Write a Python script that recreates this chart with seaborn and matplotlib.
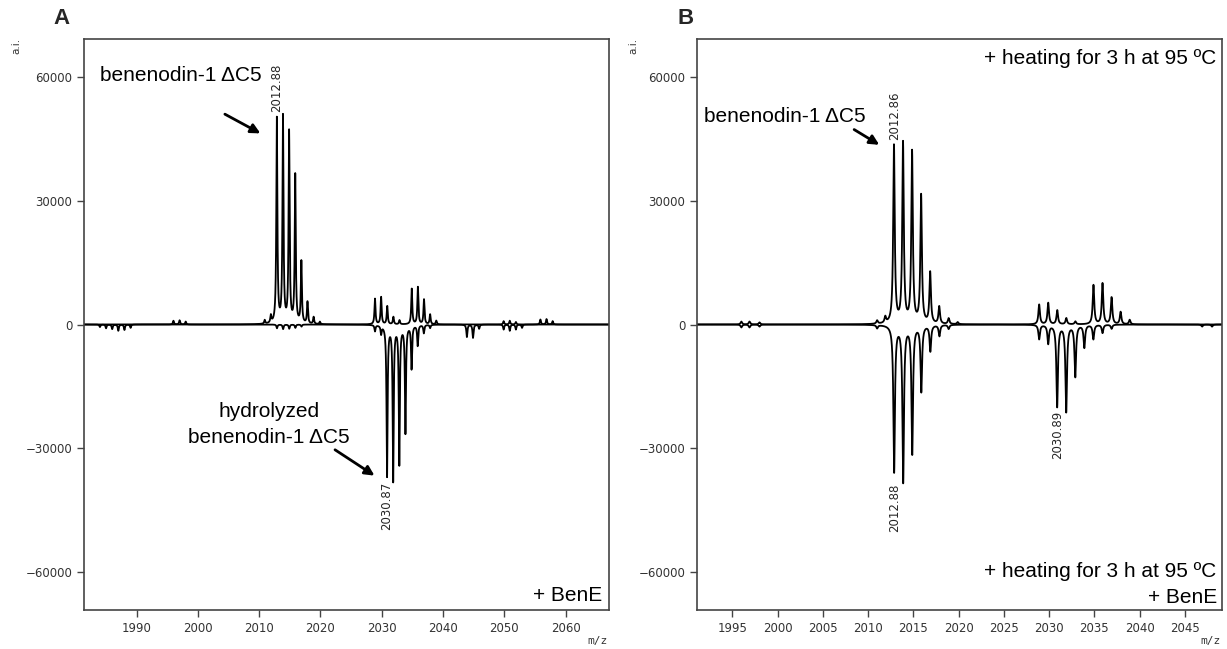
import matplotlib.pyplot as plt
import numpy as np
import pandas as pd
import seaborn as sns

# Peak lists: m/z and intensity (a.i.)
# Panel A, upper trace (benenodin-1 dC5)
a_top_mz = [1996.0, 1997.0, 1998.0, 2010.9, 2011.9,
            2012.88, 2013.88, 2014.88, 2015.88, 2016.88, 2017.88, 2018.88, 2019.9,
            2028.9, 2029.9, 2030.9, 2031.9, 2032.9,
            2034.9, 2035.9, 2036.9, 2037.9, 2038.9,
            2049.9, 2050.9, 2051.9, 2055.9, 2056.9, 2057.9]
a_top_int = [900, 1000, 700, 900, 1800,
             49700, 50000, 46300, 35900, 15000, 5300, 1700, 600,
             6200, 6600, 4400, 1800, 1000,
             8600, 9000, 6000, 2400, 900,
             800, 900, 600, 1200, 1300, 800]
# Panel A, lower trace (+ BenE)
a_bot_mz = [1984.0, 1985.0, 1986.0, 1987.0, 1988.0, 1989.0,
            2012.9, 2013.9, 2014.9, 2015.9, 2016.9,
            2028.9, 2029.9,
            2030.87, 2031.87, 2032.87, 2033.87, 2034.87, 2035.87, 2036.87, 2037.9,
            2043.9, 2044.9, 2045.9, 2049.9, 2050.9, 2051.9, 2052.9]
a_bot_int = [-600, -900, -1100, -1500, -1300, -800,
             -900, -1100, -1000, -800, -500,
             -1500, -2000,
             -36500, -37500, -33500, -26000, -10500, -5000, -2000, -800,
             -3000, -3200, -1000, -1200, -1500, -1200, -800]

# Panel B, upper trace (+ heating)
b_top_mz = [1996.0, 1996.9, 1998.0, 2011.0, 2011.9,
            2012.86, 2013.86, 2014.86, 2015.86, 2016.86, 2017.86, 2018.9, 2019.9,
            2028.9, 2029.9, 2030.9, 2031.9, 2032.9,
            2034.9, 2035.9, 2036.9, 2037.9, 2038.9]
b_top_int = [700, 700, 500, 800, 1500,
             43100, 43600, 41500, 31000, 12400, 4200, 1400, 500,
             4800, 5200, 3400, 1500, 700,
             9500, 9900, 6500, 3000, 1100]
# Panel B, lower trace (+ heating + BenE)
b_bot_mz = [1996.0, 1996.9, 1998.0, 2011.0,
            2012.88, 2013.88, 2014.88, 2015.88, 2016.88, 2017.88, 2018.9,
            2028.9, 2029.9, 2030.89, 2031.89, 2032.89, 2033.89, 2034.89, 2035.9, 2036.9,
            2046.9, 2048.0]
b_bot_int = [-700, -700, -500, -800,
             -35500, -37800, -31000, -16000, -6300, -2700, -1000,
             -3500, -4500, -19800, -21000, -12500, -5500, -3500, -2000, -1000,
             -500, -500]

y_ticks = [-60000, -30000, 0, 30000, 60000]
a_xticks = [1990, 2000, 2010, 2020, 2030, 2040, 2050, 2060]
b_xticks = [1995, 2000, 2005, 2010, 2015, 2020, 2025, 2030, 2035, 2040, 2045]


def profile(grid, mz, inten, gamma=0.1):
    """Sum of narrow Lorentzian peaks centred on the listed m/z values."""
    y = np.zeros_like(grid)
    for m, h in zip(mz, inten):
        y += h / (1 + ((grid - m) / gamma) ** 2)
    return y


def trace(ax, lo, hi, mz, inten):
    grid = np.arange(lo, hi, 0.005)
    df = pd.DataFrame({"mz": grid, "ai": profile(grid, mz, inten)})
    sns.lineplot(data=df, x="mz", y="ai", ax=ax, color="black", lw=1.3,
                 estimator=None, sort=False)


def style_axes(ax, xlim, xticks):
    ax.set_xlim(*xlim)
    ax.set_ylim(-69200, 69200)
    ax.set_xticks(xticks)
    ax.set_yticks(y_ticks)
    ax.set_xlabel("")
    ax.set_ylabel("")
    for s in ax.spines.values():
        s.set_visible(True)
        s.set_color("#444444")
        s.set_linewidth(1.2)
    ax.tick_params(direction="out", length=5, width=1, color="#444444",
                   labelsize=8.5, labelcolor="#333333")


sns.set_style("ticks")
plt.rcParams["font.family"] = ["DejaVu Sans"]

fig = plt.figure(figsize=(12.27, 6.49), dpi=100)
axA = fig.add_axes([84 / 1227, 39 / 649, 525 / 1227, 571 / 649])
axB = fig.add_axes([697 / 1227, 39 / 649, 525 / 1227, 571 / 649])

ann = dict(family="Liberation Sans", fontsize=15, color="black")
lab = dict(family="DejaVu Sans", fontsize=8.5, rotation=90, ha="center")
arrow = dict(arrowstyle="-|>", color="black", lw=2, mutation_scale=14)

# ---- Panel A
trace(axA, 1981.4, 2067.1, a_top_mz, a_top_int)
trace(axA, 1981.4, 2067.1, a_bot_mz, a_bot_int)
style_axes(axA, (1981.4, 2067.1), a_xticks)
axA.text(2012.88, 51500, "2012.88", va="bottom", **lab)
axA.text(2030.87, -38000, "2030.87", va="top", **lab)
axA.text(2010.4, 60400, "benenodin-1 ΔC5", ha="right", va="center", **ann)
axA.annotate("", xy=(2010.6, 46000), xytext=(2004.0, 51300), arrowprops=arrow)
axA.text(2011.6, -24200, "hydrolyzed\nbenenodin-1 ΔC5", ha="center", va="center",
         linespacing=1.45, **ann)
axA.annotate("", xy=(2029.2, -37000), xytext=(2022.0, -30000), arrowprops=arrow)
axA.text(0.988, 0.025, "+ BenE", transform=axA.transAxes, ha="right", va="center", **ann)

# ---- Panel B
trace(axB, 1991.1, 2049.1, b_top_mz, b_top_int)
trace(axB, 1991.1, 2049.1, b_bot_mz, b_bot_int)
style_axes(axB, (1991.1, 2049.1), b_xticks)
axB.text(2012.95, 44800, "2012.86", va="bottom", **lab)
axB.text(2012.88, -38600, "2012.88", va="top", **lab)
axB.text(2030.89, -21000, "2030.89", va="top", **lab)
axB.text(2009.7, 50300, "benenodin-1 ΔC5", ha="right", va="center", **ann)
axB.annotate("", xy=(2011.5, 43200), xytext=(2008.2, 47600), arrowprops=arrow)
axB.text(0.99, 0.965, "+ heating for 3 h at 95 ºC", transform=axB.transAxes,
         ha="right", va="center", **ann)
axB.text(0.99, 0.068, "+ heating for 3 h at 95 ºC", transform=axB.transAxes,
         ha="right", va="center", **ann)
axB.text(0.99, 0.022, "+ BenE", transform=axB.transAxes, ha="right", va="center", **ann)

# ---- figure-level labels
fig.text(62 / 1227, 1 - 18 / 649, "A", family="Liberation Sans", fontsize=16,
         fontweight="bold", ha="center", va="center")
fig.text(686 / 1227, 1 - 18 / 649, "B", family="Liberation Sans", fontsize=16,
         fontweight="bold", ha="center", va="center")
for x in (16, 633):
    fig.text(x / 1227, 1 - 46 / 649, "a.i.", fontsize=7.5, rotation=90,
             ha="center", va="center", color="#333333")
for x in (608, 1221):
    fig.text(x / 1227, 1 - 641 / 649, "m/z", family="DejaVu Sans Mono", fontsize=8,
             ha="right", va="center", color="#333333")

fig.savefig("out.png", dpi=100)
